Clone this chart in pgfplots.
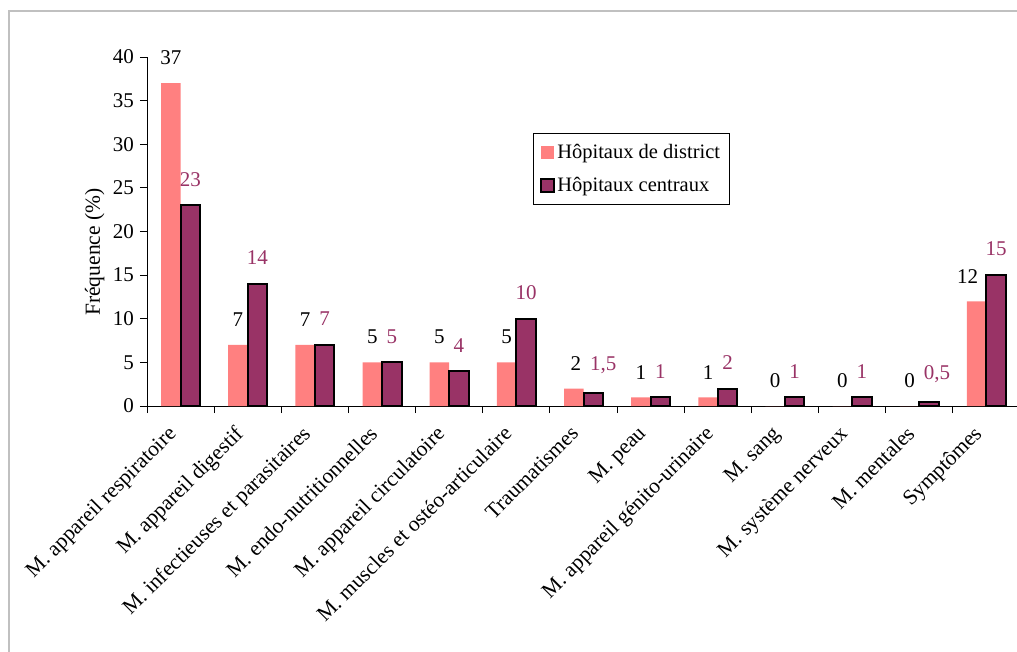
\documentclass[border=0pt]{standalone}
\usepackage{pgfplots}
\usepackage{pgfplotstable}
\pgfplotsset{compat=1.18}
\usepackage{fontspec}
\setmainfont{Liberation Serif}
\definecolor{dist}{HTML}{FF8080}
\definecolor{cent}{HTML}{993366}
\definecolor{framec}{HTML}{C0C0C0}
\newcommand{\bigf}{\fontsize{20.5}{24}\selectfont}
\newcommand{\tickf}{\fontsize{21.5}{26}\selectfont}
\newcommand{\numf}{\fontsize{21}{25}\selectfont}
\pgfplotstableread{
x y dx
0 37 0
1 7 0
2 7 0
3 5 0
4 5 0
5 5 0
6 2 2
7 1 0
8 1 0
9 0 0
10 0 0
11 0 0
12 12 -9
}\district
\pgfplotstableread{
x y dx
0 23 0
1 14 0
2 7 0
3 5 0
4 4 0
5 10 0
6 1.5 10
7 1 0
8 2 0
9 1 0
10 1 0
11 0.5 8
12 15 0
}\central
\begin{document}
\begin{tikzpicture}
\useasboundingbox (0,0) rectangle (1017pt,-652pt);
\draw[framec, line width=2pt] (9pt,-670pt) -- (9pt,-11pt) -- (1030pt,-11pt);
\begin{axis}[
  at={(147pt,-406pt)}, anchor=south west,
  scale only axis, width=873pt, height=349pt,
  xmin=-0.5, xmax=12.5, ymin=0, ymax=40,
  axis x line=bottom, axis y line=left,
  axis line style={-, line width=1pt, black},
  ytick={0,5,...,40},
  xtick={0,...,12},
  xticklabels={M. appareil respiratoire, M. appareil digestif, M. infectieuses et parasitaires, M. endo-nutritionnelles, M. appareil circulatoire, M. muscles et ostéo-articulaire, Traumatismes, M. peau, M. appareil génito-urinaire, M. sang, M. système nerveux, M. mentales, Symptômes},
  major x tick style={draw=none},
  minor xtick={-0.5,0.5,...,12.5},
  minor x tick style={black, line width=1pt},
  major y tick style={black, line width=1pt},
  tick align=outside,
  major tick length=7pt, minor tick length=7pt,
  /pgf/number format/assume math mode=true,
  /pgf/number format/use comma,
  xticklabel style={font=\tickf, rotate=45, anchor=north east, inner sep=0pt, xshift=-18pt, yshift=2pt},
  yticklabel style={font=\numf, inner sep=0pt, xshift=-6pt},
  ylabel={Fréquence (\%)},
  ylabel style={font=\tickf, at={(axis description cs:-0.0600,0.441)}, anchor=center},
  ybar=0pt, bar width=19.5pt,
  nodes near coords,
  nodes near coords align=vertical,
  visualization depends on={\thisrow{dx} \as \dx},
  every node near coord/.append style={font=\numf, inner sep=0pt, yshift=18pt, xshift=\dx pt, anchor=south},
  legend style={at={(0.4420,0.7822)}, anchor=north west, draw=black, line width=0.8pt,
    font=\bigf, inner xsep=7pt, inner ysep=9pt, row sep=13pt, cells={anchor=west}},
  legend cell align=left,
]
\addplot[fill=dist, draw=none,
  every node near coord/.append style={text=black},
  legend image code/.code={\fill[dist] (0pt,-6.5pt) rectangle (13pt,6.5pt);}]
  table[x=x, y=y, meta=y] {\district};
\addlegendentry{Hôpitaux de district}
\addplot[fill=cent, draw=black, line width=2pt,
  every node near coord/.append style={text=cent},
  legend image code/.code={\draw[fill=cent, draw=black, line width=2pt] (0pt,-6.5pt) rectangle (13pt,6.5pt);}]
  table[x=x, y=y, meta=y] {\central};
\addlegendentry{Hôpitaux centraux}
\end{axis}
\end{tikzpicture}
\end{document}
